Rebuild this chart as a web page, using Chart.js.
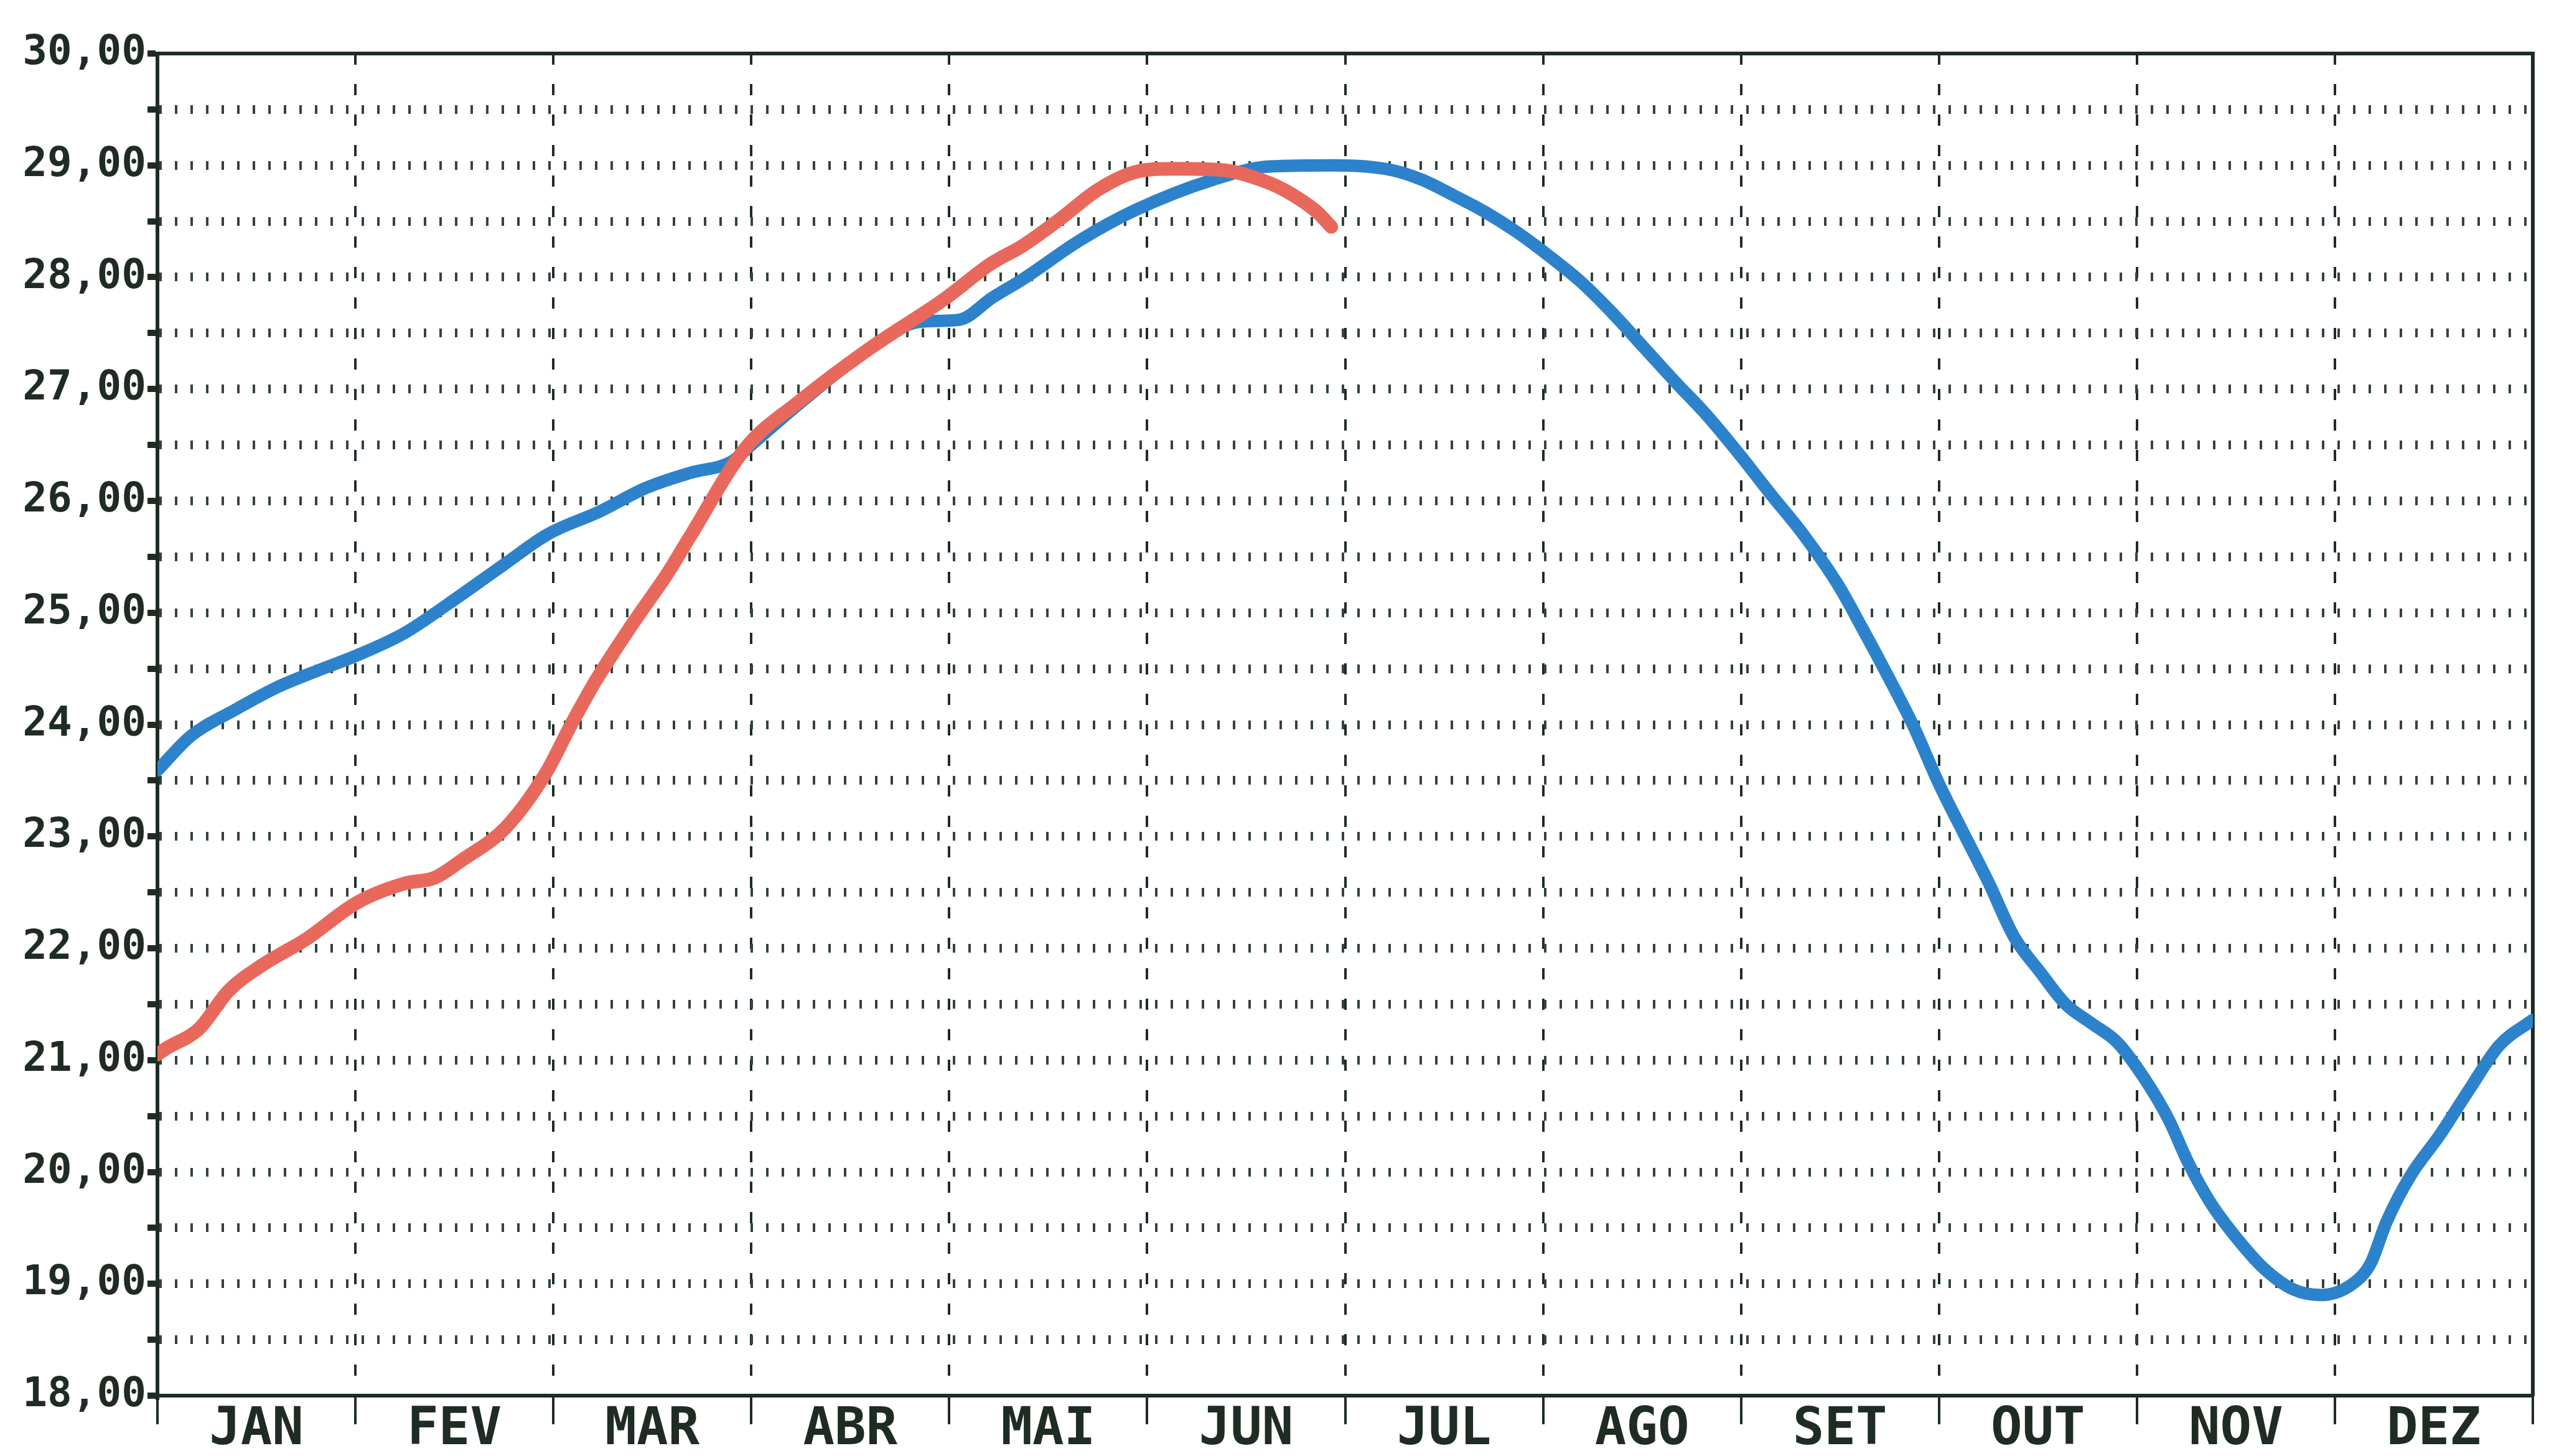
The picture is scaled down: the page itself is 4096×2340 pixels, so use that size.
<!DOCTYPE html>
<html>
<head>
<meta charset="utf-8">
<script src="https://cdn.jsdelivr.net/npm/chart.js@4.4.0/dist/chart.umd.min.js"></script>
<style>
  html, body { margin: 0; padding: 0; background: #ffffff; }
  #wrap { width: 4096px; height: 2340px; }
</style>
</head>
<body>
<div id="wrap"><canvas id="c" width="4096" height="2340"></canvas></div>
<script>
// Month names shown in each band between the dashed dividers
const months = ['JAN', 'FEV', 'MAR', 'ABR', 'MAI', 'JUN', 'JUL', 'AGO', 'SET', 'OUT', 'NOV', 'DEZ'];

// Blue curve — whole year (x = months since start of January)
const blueX = [0, 0.17, 0.39, 0.60, 0.82, 1.01, 1.25, 1.47, 1.75, 1.97, 2.24, 2.46, 2.69, 2.90, 3.0, 3.25, 3.58, 3.85,
               4.05, 4.22, 4.37, 4.66, 4.94, 5.33, 5.62, 5.95, 6.23, 6.39, 6.55, 6.71, 6.87, 7.03, 7.19, 7.35,
               7.51, 7.67, 7.83, 7.99, 8.15, 8.31, 8.49, 8.61, 8.74, 8.87, 9.0, 9.13, 9.25, 9.38, 9.51, 9.64,
               9.77, 9.90, 10.04, 10.16, 10.26, 10.37, 10.49, 10.64, 10.79, 10.93, 11.09, 11.18, 11.26, 11.38,
               11.53, 11.68, 11.83, 12.0];
const blueY = [23.59, 23.90, 24.13, 24.33, 24.49, 24.62, 24.82, 25.08, 25.43, 25.70, 25.91, 26.11, 26.25, 26.35, 26.5, 26.88, 27.34, 27.6,
               27.62, 27.82, 27.98, 28.33, 28.60, 28.87, 28.99, 29.0, 28.96, 28.87, 28.73, 28.58, 28.40, 28.19, 27.96, 27.68,
               27.37, 27.06, 26.76, 26.42, 26.06, 25.71, 25.25, 24.87, 24.44, 23.99, 23.47, 23.01, 22.59, 22.1, 21.79, 21.5,
               21.33, 21.16, 20.83, 20.47, 20.08, 19.73, 19.44, 19.14, 18.95, 18.90, 19.0, 19.18, 19.55, 19.96,
               20.33, 20.74, 21.13, 21.36];

// Red curve — first half of the year only
const redX = [0, 0.04, 0.21, 0.36, 0.53, 0.75, 1.01, 1.25, 1.40, 1.54, 1.76, 1.96, 2.09, 2.21, 2.40, 2.58, 2.69, 2.97,
              3.25, 3.58, 3.98, 4.21, 4.37, 4.56, 4.75, 4.94, 5.14, 5.37, 5.62, 5.75, 5.86, 5.93];
const redY = [21.05, 21.10, 21.28, 21.62, 21.85, 22.08, 22.41, 22.58, 22.63, 22.79, 23.08, 23.56, 24.0, 24.38, 24.9, 25.36, 25.68, 26.47,
              26.90, 27.34, 27.81, 28.12, 28.28, 28.52, 28.78, 28.94, 28.97, 28.96, 28.84, 28.72, 28.58, 28.45];

const yMin = 18, yMax = 30;

const ink = '#1f2c23';
const pts = (xs, ys) => xs.map((x, i) => ({ x: x, y: ys[i] }));

new Chart(document.getElementById('c'), {
    type: 'line',
    data: {
        datasets: [
            { label: 'vermelho', data: pts(redX, redY), borderColor: '#e8695c', borderWidth: 22,
              pointRadius: 0, tension: 0.4, cubicInterpolationMode: 'monotone', borderCapStyle: 'round' },
            { label: 'azul', data: pts(blueX, blueY), borderColor: '#2d82cc', borderWidth: 20,
              pointRadius: 0, tension: 0.4, cubicInterpolationMode: 'monotone', borderCapStyle: 'round' },
        ]
    },
    options: {
        responsive: false,
        animation: false,
        layout: { padding: { top: 86, right: 26, left: 0, bottom: 0 } },
        plugins: { legend: { display: false }, tooltip: { enabled: false } },
        scales: {
            x: {
                type: 'linear', position: 'bottom', min: 0, max: 12,
                afterBuildTicks: s => { s.ticks = []; for (let v = 0; v <= 12; v += 0.5) s.ticks.push({ value: v }); },
                afterFit: s => { s.height = 97; },
                ticks: {
                    autoSkip: false, maxRotation: 0, padding: -40, color: ink,
                    font: { family: "'DejaVu Sans Mono'", size: 84, weight: 'bold' },
                    callback: v => Number.isInteger(v) ? '' : months[Math.floor(v)]
                },
                grid: {
                    color: c => (c.tick && Number.isInteger(c.tick.value)) ? ink : 'transparent',
                    lineWidth: 4, tickLength: 46, tickWidth: 4,
                    tickColor: c => (c.tick && Number.isInteger(c.tick.value)) ? ink : 'transparent'
                },
                border: { display: true, color: ink, width: 6, dash: [18, 31] }
            },
            y: {
                type: 'linear', position: 'left', min: yMin, max: yMax,
                afterFit: s => { s.width = 253; },
                ticks: {
                    stepSize: 0.5, autoSkip: false, padding: 2, color: ink,
                    font: { family: "'DejaVu Sans Mono'", size: 66, weight: 'bold' },
                    callback: v => Number.isInteger(v) ? v.toFixed(2).replace('.', ',') : ''
                },
                grid: {
                    color: c => (c.tick && (c.tick.value === yMin || c.tick.value === yMax)) ? 'transparent' : '#33443a',
                    lineWidth: 14, tickLength: 16, tickWidth: 10, tickColor: ink
                },
                border: { display: true, color: ink, width: 6, dash: [4, 21] }
            },
            xTop: {
                type: 'linear', position: 'top', min: 0, max: 12,
                afterFit: s => { s.height = 0; },
                ticks: { display: false },
                grid: { display: false, drawTicks: false },
                border: { display: true, color: ink, width: 6 }
            },
            yRight: {
                type: 'linear', position: 'right', min: yMin, max: yMax,
                afterFit: s => { s.width = 0; },
                ticks: { display: false },
                grid: { display: false, drawTicks: false },
                border: { display: true, color: ink, width: 6 }
            }
        }
    }
});
</script>
</body>
</html>
